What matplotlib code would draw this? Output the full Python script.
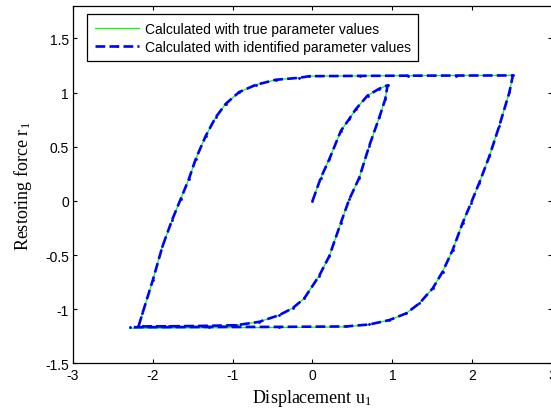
import matplotlib
matplotlib.use("Agg")
import matplotlib.pyplot as plt

# displacement / restoring force
u_true = [0.0, 0.105, 0.21, 0.356, 0.46, 0.545, 0.69, 0.837, 0.94,
          0.912, 0.837, 0.711, 0.586, 0.46, 0.356, 0.21, 0.084, -0.104, -0.25, -0.418,
          -0.67, -0.96, -1.38, -1.8, -2.175,
          -2.13, -2.0, -1.88, -1.757, -1.65, -1.55, -1.464, -1.338, -1.213, -1.088,
          -0.92, -0.71, -0.46, -0.167, -0.04, 0.6, 1.2, 1.8, 2.51,
          2.467, 2.34, 2.217, 2.09, 1.987, 1.882, 1.757, 1.631, 1.506, 1.339, 1.172,
          0.96, 0.71, 0.42, -0.418, -1.3, -2.29]
r_true = [0.0, 0.216, 0.385, 0.648, 0.757, 0.85, 0.973, 1.037, 1.068,
          0.942, 0.772, 0.509, 0.215, 0.014, -0.2, -0.51, -0.69, -0.9, -0.99, -1.054,
          -1.116, -1.147, -1.156, -1.16, -1.162,
          -1.038, -0.73, -0.42, -0.172, 0.02, 0.2, 0.385, 0.60, 0.772, 0.896,
          1.005, 1.072, 1.119, 1.137, 1.152, 1.155, 1.157, 1.158, 1.159,
          1.005, 0.694, 0.416, 0.169, -0.017, -0.2, -0.45, -0.652, -0.806, -0.945, -1.038,
          -1.10, -1.14, -1.162, -1.168, -1.17, -1.175]

u_ident = [0.0, 0.105, 0.21, 0.356, 0.46, 0.545, 0.69, 0.837, 0.94,
           0.912, 0.837, 0.711, 0.586, 0.46, 0.356, 0.21, 0.084, -0.104, -0.25, -0.418,
           -0.67, -0.96, -1.38, -1.8, -2.18,
           -2.13, -2.0, -1.88, -1.757, -1.65, -1.55, -1.464, -1.338, -1.213, -1.088,
           -0.92, -0.71, -0.46, -0.167, -0.04, 0.6, 1.2, 1.8, 2.51,
           2.467, 2.34, 2.217, 2.09, 1.987, 1.882, 1.757, 1.631, 1.506, 1.339, 1.172,
           0.96, 0.71, 0.42, -0.418, -1.3, -2.29]
r_ident = [0.0, 0.216, 0.385, 0.648, 0.757, 0.85, 0.973, 1.037, 1.068,
           0.942, 0.772, 0.509, 0.215, 0.014, -0.2, -0.51, -0.69, -0.9, -0.99, -1.054,
           -1.116, -1.147, -1.153, -1.157, -1.158,
           -1.038, -0.73, -0.42, -0.172, 0.02, 0.2, 0.385, 0.60, 0.772, 0.896,
           1.005, 1.072, 1.119, 1.137, 1.152, 1.155, 1.157, 1.158, 1.159,
           1.005, 0.694, 0.416, 0.169, -0.017, -0.2, -0.45, -0.652, -0.806, -0.945, -1.038,
           -1.10, -1.14, -1.158, -1.162, -1.163, -1.165]

xticks = [-3, -2, -1, 0, 1, 2, 3]
yticks = [-1.5, -1, -0.5, 0, 0.5, 1, 1.5]
ytick_labels = ["-1.5", "-1", "-0.5", "0", "0.5", "1", "1.5"]

plt.rcParams["font.family"] = "Liberation Sans"
plt.rcParams["mathtext.fontset"] = "custom"
plt.rcParams["mathtext.rm"] = "Liberation Serif"
plt.rcParams["mathtext.it"] = "Liberation Serif:italic"

fig = plt.figure(figsize=(5.51, 4.14), dpi=100)
ax = fig.add_axes([0.1325, 0.1196, 0.8693, 0.8635])

ax.plot(u_true, r_true, color="#00ff00", lw=0.9, label="Calculated with true parameter values")
ax.plot(u_ident, r_ident, color="#0000ff", lw=1.9, ls="--", marker=".", ms=2,
        label="Calculated with identified parameter values")

ax.set_xlim(-3, 3)
ax.set_ylim(-1.5, 1.8)
ax.set_xticks(xticks)
ax.set_xticklabels([str(t) for t in xticks])
ax.set_yticks(yticks)
ax.set_yticklabels(ytick_labels)
ax.tick_params(direction="in", top=True, right=True, length=3, width=0.8,
               labelsize=10, pad=3)
for s in ax.spines.values():
    s.set_linewidth(0.9)

ax.set_xlabel(r"Displacement u$_\mathregular{1}$", family="Liberation Serif",
              fontsize=13, labelpad=4)
ax.set_ylabel(r"Restoring force r$_\mathregular{1}$", family="Liberation Serif",
              fontsize=13, labelpad=8)

leg = ax.legend(loc="upper left", bbox_to_anchor=(87 / 551, 1 - 15 / 414),
                bbox_transform=fig.transFigure, borderaxespad=0, fontsize=10,
                fancybox=False, framealpha=1, edgecolor="black", numpoints=1,
                handlelength=3.2, handletextpad=0.4, borderpad=0.55,
                labelspacing=0.3)
leg.get_frame().set_linewidth(0.9)

fig.savefig("out.png", dpi=100)
